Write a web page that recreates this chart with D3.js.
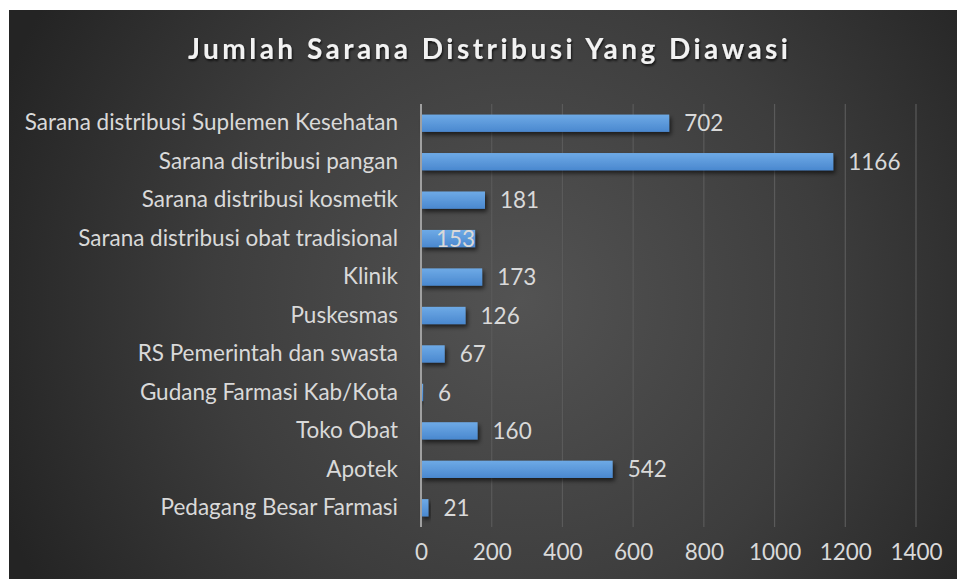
<!DOCTYPE html>
<html><head><meta charset="utf-8">
<script src="https://cdn.jsdelivr.net/npm/d3@7"></script>
<style>
html,body{margin:0;padding:0;background:#fff;}
svg{display:block;}
text{font-family:Lato,"Open Sans",sans-serif;}
</style></head>
<body>
<svg id="chart" width="957" height="579"></svg>
<script>
const title = "Jumlah Sarana Distribusi Yang Diawasi";
const categories = [
  "Sarana distribusi Suplemen Kesehatan",
  "Sarana distribusi pangan",
  "Sarana distribusi kosmetik",
  "Sarana distribusi obat tradisional",
  "Klinik",
  "Puskesmas",
  "RS Pemerintah dan swasta",
  "Gudang Farmasi Kab/Kota",
  "Toko Obat",
  "Apotek",
  "Pedagang Besar Farmasi"
];
const values = [702, 1166, 181, 153, 173, 126, 67, 6, 160, 542, 21];
const insideLabels = ["Sarana distribusi obat tradisional"];
const xTicks = [0, 200, 400, 600, 800, 1000, 1200, 1400];

const svg = d3.select("#chart");
const W = 957, H = 579;
const frame = {x: 9, y: 10, w: W - 9, h: H - 10};
const m = {left: 421, right: 916, top: 104, bottom: 527};
const FS = "22.5px";

const defs = svg.append("defs");
const rg = defs.append("radialGradient").attr("id", "bg")
  .attr("gradientUnits", "userSpaceOnUse")
  .attr("cx", 520).attr("cy", 300).attr("r", 560);
rg.append("stop").attr("offset", "0%").attr("stop-color", "#535353");
rg.append("stop").attr("offset", "55%").attr("stop-color", "#3d3d3d");
rg.append("stop").attr("offset", "100%").attr("stop-color", "#242424");

const lg = defs.append("linearGradient").attr("id", "bar").attr("x1", 0).attr("y1", 0).attr("x2", 0).attr("y2", 1);
lg.append("stop").attr("offset", "0%").attr("stop-color", "#6eaae6");
lg.append("stop").attr("offset", "100%").attr("stop-color", "#4a88cf");

const sh = defs.append("filter").attr("id", "shadow").attr("x", "-20%").attr("y", "-50%").attr("width", "150%").attr("height", "250%");
sh.append("feDropShadow").attr("dx", 2).attr("dy", 3).attr("stdDeviation", 2.2).attr("flood-color", "#000").attr("flood-opacity", 0.6);

const tsh = defs.append("filter").attr("id", "tshadow").attr("x", "-10%").attr("y", "-50%").attr("width", "120%").attr("height", "200%");
tsh.append("feDropShadow").attr("dx", 1).attr("dy", 2).attr("stdDeviation", 1.2).attr("flood-color", "#000").attr("flood-opacity", 0.7);

svg.append("rect").attr("x", frame.x).attr("y", frame.y).attr("width", frame.w).attr("height", frame.h).attr("fill", "url(#bg)");

const x = d3.scaleLinear().domain([0, 1400]).range([m.left, m.right]);
const y = d3.scaleBand().domain(categories).range([m.top, m.bottom]).paddingInner(0.55).paddingOuter(0.275);

// gridlines
svg.append("g").selectAll("line").data(xTicks.slice(1)).join("line")
  .attr("x1", d => x(d)).attr("x2", d => x(d))
  .attr("y1", m.top).attr("y2", m.bottom)
  .attr("stroke", "#5a5a5a").attr("stroke-width", 1.2);

// bars
svg.append("g").selectAll("rect").data(values).join("rect")
  .attr("x", x(0)).attr("y", (d, i) => y(categories[i]))
  .attr("width", d => x(d) - x(0)).attr("height", y.bandwidth())
  .attr("fill", "url(#bar)").attr("filter", "url(#shadow)");

// category axis line
svg.append("line").attr("x1", x(0)).attr("x2", x(0)).attr("y1", m.top).attr("y2", m.bottom)
  .attr("stroke", "#a0a0a0").attr("stroke-width", 2);

// category labels
const yAxis = svg.append("g").attr("transform", `translate(${m.left},0)`)
  .call(d3.axisLeft(y).tickSize(0).tickPadding(23));
yAxis.select(".domain").remove();
yAxis.selectAll("text").attr("fill", "#d9d9d9").style("font-size", FS).style("font-family", "Lato,sans-serif");

// x axis
const xAxis = svg.append("g").attr("transform", `translate(0,${m.bottom})`)
  .call(d3.axisBottom(x).tickValues(xTicks).tickFormat(d3.format("d")).tickSize(0).tickPadding(17));
xAxis.select(".domain").remove();
xAxis.selectAll("text").attr("fill", "#d9d9d9").style("font-size", FS).style("font-family", "Lato,sans-serif");

// value labels
svg.append("g").selectAll("text").data(values).join("text")
  .attr("x", (d, i) => insideLabels.includes(categories[i]) ? x(d) : x(d) + 15)
  .attr("y", (d, i) => y(categories[i]) + y.bandwidth() / 2)
  .attr("dy", "0.36em")
  .attr("text-anchor", (d, i) => insideLabels.includes(categories[i]) ? "end" : "start")
  .attr("fill", "#d9d9d9").style("font-size", FS)
  .text(d => d);

// title
const t = svg.append("text").attr("x", 488).attr("y", 59).attr("text-anchor", "middle")
  .attr("fill", "#f2f2f2").style("font-size", "28px").style("font-weight", "bold")
  .attr("filter", "url(#tshadow)")
  .text(title);
const base = t.node().getComputedTextLength();
const ls = (600 - base) / (title.length - 1);
t.style("letter-spacing", ls + "px").attr("x", 488 + ls / 2);
</script>
</body></html>
